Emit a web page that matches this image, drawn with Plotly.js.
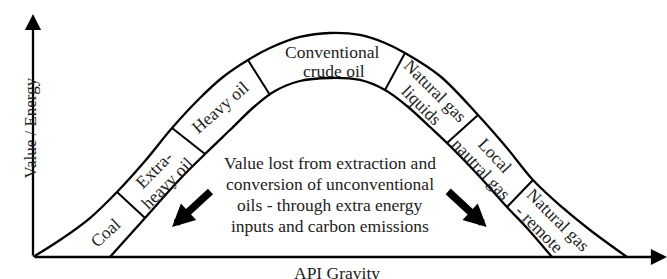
<!DOCTYPE html>
<html><head><meta charset="utf-8">
<script src="https://cdn.plot.ly/plotly-3.0.1.min.js"></script>
<style>html,body{margin:0;padding:0;background:#fff}#chart{width:667px;height:279px}</style>
</head><body><div id="chart"></div>
<script>
// Upper edge of the value band (API gravity vs value/energy, arbitrary units)
const upperX = [0, 4.5, 9.5, 14.0, 18.67, 23.17, 27.83, 31.67, 35.83, 39.5, 44.5, 49.5, 54.5, 58.67, 62.0, 67.83, 74.17, 79.0, 83.33, 88.33, 92.83, 99.0];
const upperY = [0, 7.56, 17.33, 28.89, 42.67, 57.33, 70.67, 80.0, 87.56, 92.89, 97.78, 99.56, 98.67, 95.11, 90.67, 80.44, 63.11, 48.44, 34.22, 21.78, 12.0, 0];
// Lower edge of the value band
const lowerX = [12.83, 18.67, 24.5, 28.67, 32.83, 37.0, 40.33, 44.5, 49.5, 54.5, 58.67, 62.33, 66.17, 69.0, 74.5, 79.0, 82.33, 86.5];
const lowerY = [0, 17.33, 34.67, 45.78, 56.44, 67.11, 73.78, 78.22, 79.56, 78.67, 74.22, 67.11, 57.78, 50.67, 35.56, 22.22, 12.89, 0];
// Boundaries between resource categories (upper end, lower end)
const divUpperX = [14.0, 23.17, 35.83, 62.0, 74.17, 83.33];
const divUpperY = [28.89, 57.33, 87.56, 90.67, 63.11, 34.22];
const divLowerX = [18.67, 28.67, 39.5, 58.67, 69.0, 79.0];
const divLowerY = [17.33, 45.78, 72.0, 74.22, 50.67, 22.22];
// Category label lines
const labelText = ["Coal", "Extra-", "heavy oil", "Heavy oil", "Conventional", "crude oil", "Natural gas", "liquids", "Local", "nautral gas", "Natural gas", "- remote"];
const labelX = [12.0, 20.1, 22.4, 31.28, 49.83, 50.17, 67.07, 64.77, 77.07, 74.7, 87.55, 84.43];
const labelY = [10.67, 38.84, 32.71, 66.53, 91.11, 82.67, 73.73, 67.6, 44.96, 39.04, 16.44, 12.49];
const labelAngle = [-42, -45, -45, -41, 0, 0, 45, 45, 47, 47, 45, 45];
// Central note lines and loss arrows
const noteLines = ["Value lost from extraction and", "conversion of unconventional", "oils - through extra energy", "inputs and carbon emissions"];
const noteX = 49.58;
const noteY = [41.78, 32.44, 23.11, 13.78];
const arrowTailX = [29.83, 68.94], arrowTailY = [29.78, 29.78];
const arrowTipX = [23.17, 75.61], arrowTipY = [13.33, 13.33];
const xTitle = "API Gravity", yTitle = "Value / Energy";
const xMax = 105.67, yMax = 114.22, yArrowTop = 108;

const FONT = "Liberation Serif, Times New Roman, serif";
const TXT = "#222";
const lineStyle = {color: "#000", width: 2.3, shape: "spline", smoothing: 1};

const divX = [], divY = [];
for (let i = 0; i < divUpperX.length; i++) {
  divX.push(divUpperX[i], divLowerX[i], null);
  divY.push(divUpperY[i], divLowerY[i], null);
}

const traces = [
  {x: upperX, y: upperY, mode: "lines", line: lineStyle, hoverinfo: "skip"},
  {x: lowerX, y: lowerY, mode: "lines", line: lineStyle, hoverinfo: "skip"},
  {x: divX, y: divY, mode: "lines", line: {color: "#000", width: 2}, hoverinfo: "skip", connectgaps: false}
];

const annotations = [];
labelText.forEach((t, i) => annotations.push({
  x: labelX[i], y: labelY[i], xref: "x", yref: "y", text: t, showarrow: false,
  textangle: labelAngle[i], borderpad: 0,
  font: {family: FONT, size: 17.5, color: TXT}
}));
noteLines.forEach((t, i) => annotations.push({
  x: noteX, y: noteY[i], xref: "x", yref: "y", text: t, showarrow: false, borderpad: 0,
  font: {family: FONT, size: 17.5, color: TXT}
}));
for (let i = 0; i < arrowTipX.length; i++) {
  annotations.push({x: arrowTipX[i], y: arrowTipY[i], ax: arrowTailX[i], ay: arrowTailY[i],
    xref: "x", yref: "y", axref: "x", ayref: "y", text: "", showarrow: true,
    arrowhead: 2, arrowsize: 0.6, arrowwidth: 7.5, arrowcolor: "#000", standoff: 0});
}
// axes with arrow heads
annotations.push({x: 0, y: yArrowTop, ax: 0, ay: 0, xref: "x", yref: "y", axref: "x", ayref: "y",
  text: "", showarrow: true, arrowhead: 2, arrowsize: 1.4, arrowwidth: 2.3, arrowcolor: "#000", standoff: 0});
annotations.push({x: xMax, y: 0, ax: 0, ay: 0, xref: "x", yref: "y", axref: "x", ayref: "y",
  text: "", showarrow: true, arrowhead: 2, arrowsize: 1.4, arrowwidth: 2.3, arrowcolor: "#000", standoff: 0});
annotations.push({x: 0.479, y: -0.019, xref: "paper", yref: "paper", text: xTitle, showarrow: false,
  yanchor: "top", borderpad: 0, font: {family: FONT, size: 17.5, color: TXT}});
annotations.push({x: -0.0205, y: 0.502, xref: "paper", yref: "paper", text: yTitle, showarrow: false,
  textangle: -90, borderpad: 0, font: {family: FONT, size: 17, color: TXT}});

const layout = {
  width: 667, height: 279,
  margin: {l: 33, r: 0, t: 0, b: 22, pad: 0},
  paper_bgcolor: "#fff", plot_bgcolor: "#fff",
  showlegend: false,
  xaxis: {range: [0, xMax], visible: false, fixedrange: true},
  yaxis: {range: [0, yMax], visible: false, fixedrange: true},
  annotations: annotations
};
Plotly.newPlot("chart", traces, layout, {displayModeBar: false, staticPlot: true});
</script>
</body></html>
